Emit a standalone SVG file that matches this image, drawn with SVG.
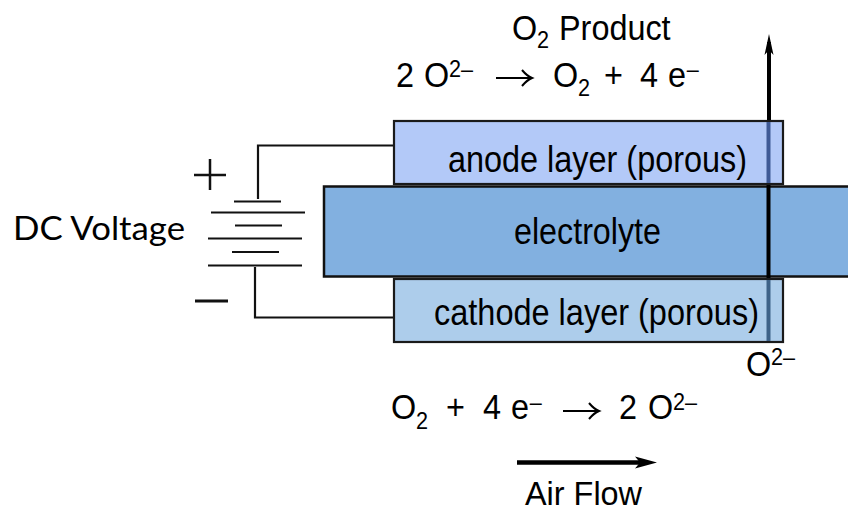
<svg xmlns="http://www.w3.org/2000/svg" width="848" height="512" viewBox="0 0 848 512">
<style>
text{font-family:"Liberation Sans",Arial,sans-serif;fill:#000;font-size:37px;white-space:pre}
.eq{font-size:36px}
.s{font-size:24px}
.w{fill:none;stroke:#111;stroke-width:2.2}
.layer{stroke:#1a1a1a;stroke-width:2.2}
.arr{fill:none;stroke:#000;stroke-width:2}
</style>
<rect width="848" height="512" fill="#fff"/>
<g id="connectors">
<path class="w" d="M258 199V145.500H397"/>
<path class="w" d="M255 267V317.500H394"/>
<path d="M769 120V42" stroke="#000" stroke-width="4" fill="none"/>
<path d="M769 34L773.500 55L769 50L764.500 55Z" fill="#000"/>
<path d="M517 462.500H640" stroke="#000" stroke-width="4.500" fill="none"/>
<path d="M657 462.500L635 456.500L640 462.500L635 468.500Z" fill="#000"/>
</g>
<g id="battery">
<path class="w" d="M234 201.500H281M211 212.500H305M235 225.500H282M208 238.500H302M232 252H279M208 265.500H302"/>
<path d="M194 175H226M210 159V190" stroke="#111" stroke-width="2.500" fill="none"/>
<path d="M195 301H228" stroke="#111" stroke-width="3" fill="none"/>
</g>
<g id="anode">
<rect class="layer" x="394" y="121" width="389" height="63" fill="#b3c9f8"/>
<text x="448" y="172" textLength="299" lengthAdjust="spacingAndGlyphs">anode layer (porous)</text>
</g>
<g id="electrolyte">
<rect x="324" y="186.500" width="530" height="90" fill="#82b0e0" stroke="#111" stroke-width="2.500"/>
<text x="514" y="244" textLength="147" lengthAdjust="spacingAndGlyphs">electrolyte</text>
</g>
<g id="cathode">
<rect class="layer" x="394" y="279" width="389" height="63" fill="#adcdeb"/>
<text x="434" y="325" textLength="325" lengthAdjust="spacingAndGlyphs">cathode layer (porous)</text>
</g>
<g id="transport">
<path d="M768.500 122V183" stroke="#3f5a96" stroke-width="4" fill="none"/>
<path d="M768.500 185V278" stroke="#000" stroke-width="4" fill="none"/>
<path d="M768.500 280V341" stroke="#3d6288" stroke-width="4" fill="none"/>
</g>
<g id="dc-voltage">
<text x="13" y="240" textLength="172" lengthAdjust="spacingAndGlyphs" style="font-family:Lato,sans-serif;font-size:32px">DC Voltage</text>
</g>
<g id="o2-product">
<text class="eq" transform="scale(.9 1)"><tspan x="568.900" y="40">O</tspan><tspan class="s" x="596.700" y="48">2</tspan><tspan x="621.100" y="40">Product</tspan></text>
</g>
<g id="anode-reaction">
<text class="eq" transform="scale(.9 1)"><tspan x="440" y="87">2</tspan><tspan x="471.100" y="87">O</tspan><tspan class="s" x="498.900" y="77">2–</tspan><tspan x="614.400" y="87">O</tspan><tspan class="s" x="642.200" y="96">2</tspan><tspan x="671.100" y="87">+</tspan><tspan x="711.100" y="87">4</tspan><tspan x="742.200" y="87">e</tspan><tspan class="s" x="763" y="77">–</tspan></text>
<path class="arr" d="M496 78H532M522 70Q527 76 532 78Q527 80 522 86"/>
</g>
<g id="o2-minus">
<text class="eq" transform="scale(.9 1)"><tspan x="828.900" y="376">O</tspan><tspan class="s" x="856.700" y="365">2–</tspan></text>
</g>
<g id="cathode-reaction">
<text class="eq" transform="scale(.9 1)"><tspan x="434.400" y="419">O</tspan><tspan class="s" x="462.200" y="429">2</tspan><tspan x="495.600" y="419">+</tspan><tspan x="536.700" y="419">4</tspan><tspan x="567.800" y="419">e</tspan><tspan class="s" x="588.500" y="410">–</tspan><tspan x="687.800" y="419">2</tspan><tspan x="720" y="419">O</tspan><tspan class="s" x="747.800" y="410">2–</tspan></text>
<path class="arr" d="M563 411H599M589 403Q594 409 599 411Q594 413 589 419"/>
</g>
<g id="air-flow">
<text x="525" y="504.500" textLength="117" lengthAdjust="spacingAndGlyphs" style="font-size:34px">Air Flow</text>
</g>
</svg>
